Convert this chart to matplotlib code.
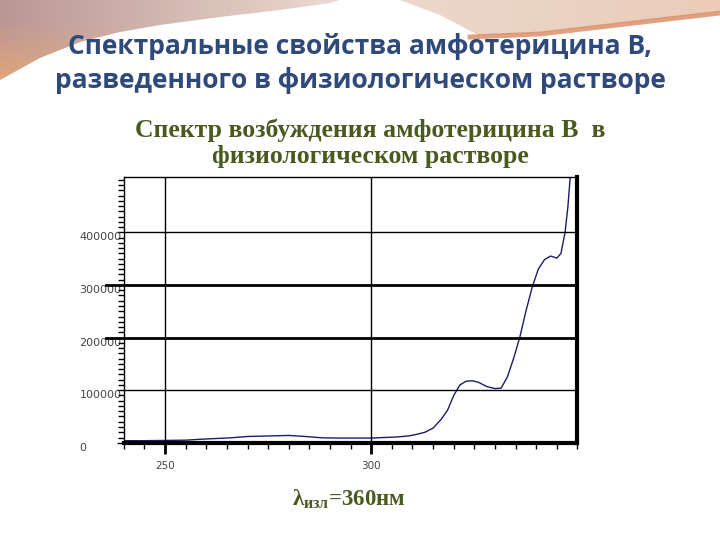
import numpy as np
import matplotlib.pyplot as plt
from matplotlib.ticker import MultipleLocator

# excitation spectrum
wavelength = [240, 245, 250, 255, 258, 262, 266, 270, 275, 280, 284, 288,
              292, 296, 300, 303, 306, 309, 311, 313, 315, 317, 318.5, 320,
              321.5, 323, 324.5, 326, 328, 330, 331.5, 333, 334.5, 336,
              337.5, 339, 340.5, 342, 343.5, 345, 346, 347, 347.7, 348.3, 349]
intensity = [4000, 4000, 4500, 5000, 6500, 8000, 9500, 12000, 13000, 14000,
             12000, 9500, 9000, 9000, 9000, 10000, 11000, 13000, 16000, 20000,
             28000, 45000, 62000, 90000, 110000, 117000, 118000, 115000,
             107000, 103000, 104000, 125000, 160000, 200000, 250000, 295000,
             330000, 348000, 355000, 351000, 360000, 400000, 450000, 510000,
             580000]

y_major = [0, 100000, 200000, 300000, 400000]
x_major = [250, 300]
x_labels = ['250', '300']

title = 'Спектральные свойства амфотерицина B,\nразведенного в физиологическом растворе'
subtitle = 'Спектр возбуждения амфотерицина B  в\nфизиологическом растворе'

plt.rcParams['mathtext.fontset'] = 'custom'
plt.rcParams['mathtext.rm'] = 'Liberation Serif:bold'
plt.rcParams['mathtext.it'] = 'Liberation Serif:bold'
plt.rcParams['mathtext.bf'] = 'Liberation Serif:bold'

fig = plt.figure(figsize=(7.2, 5.4), dpi=100, facecolor='white')

# slide background with the wave at the top
bg = fig.add_axes([0, 0, 1, 1], zorder=-10)
bg.set_xlim(0, 720)
bg.set_ylim(540, 0)
bg.axis('off')
gx = np.linspace(0, 1, 720)
gy = np.linspace(0, 1, 90)[:, None]
left = np.array([186, 150, 148]) / 255
mid = np.array([236, 218, 208]) / 255
right = np.array([234, 204, 184]) / 255
orange = np.array([232, 168, 118]) / 255
hx = np.where(gx[:, None] < 0.47,
              left + (mid - left) * (gx[:, None] / 0.47),
              mid + (right - mid) * ((gx[:, None] - 0.47) / 0.53))
img = np.repeat(hx[None, :, :], 90, axis=0)
w = np.clip(gy * 1.3 - 0.3, 0, 1)[:, :, None] * np.clip(1 - gx / 0.35, 0, 1)[None, :, None]
img = img * (1 - w) + orange * w
bg.imshow(img, extent=[0, 720, 90, 0], aspect='auto')
wave = [(0, 80), (40, 58), (80, 42), (120, 32), (160, 25), (220, 17), (280, 10),
        (330, 3), (340, 0), (400, 0), (440, 15), (480, 36), (540, 33), (600, 26),
        (660, 19), (720, 12), (720, 540), (0, 540)]
bg.add_patch(plt.Polygon(wave, closed=True, color='white', lw=0))
bg.plot([470, 540, 600, 660, 720], [37, 34, 27, 20, 13], color='#d98a62', lw=3.5, alpha=0.8)

fig.text(0.5, 0.882, title, ha='center', va='center', fontsize=19,
         fontweight='bold', family='Open Sans', color='#2f4a7a', linespacing=1.35)
fig.text(0.514, 0.735, subtitle, ha='center', va='center', fontsize=18.5,
         fontweight='bold', family='Liberation Serif', color='#4a5a1e', linespacing=1.2)
fig.text(0.485, 0.075, r'$\lambda_{изл}$=360нм', ha='center', va='center',
         fontsize=16.5, fontweight='bold', family='Liberation Serif', color='#4a5a1e')

ax = fig.add_axes([0.172, 0.18, 0.63, 0.492])
ax.plot(wavelength, intensity, color='#1c1c6a', lw=1)
ax.set_xlim(240, 350)
ax.set_ylim(0, 505000)

ax.set_xticks(x_major)
ax.set_xticklabels(x_labels)
ax.xaxis.set_minor_locator(MultipleLocator(5))
ax.set_yticks(y_major)
ax.set_yticklabels([str(v) for v in y_major])
ax.yaxis.set_minor_locator(MultipleLocator(10000))

ax.tick_params(axis='x', which='major', length=8, width=2, pad=5,
               labelsize=7.5, labelcolor='#444444')
ax.tick_params(axis='x', which='minor', length=4, width=1)
ax.tick_params(axis='y', which='major', length=5, width=1, pad=27,
               labelsize=8, labelcolor='#444444')
ax.tick_params(axis='y', which='minor', length=4.5, width=1)
for lab in ax.get_yticklabels():
    lab.set_horizontalalignment('left')
    lab.set_verticalalignment('top')

for v in x_major:
    ax.axvline(v, color='black', lw=1)
for v in [100000, 400000]:
    ax.axhline(v, color='black', lw=1)
for v in [200000, 300000]:
    ax.axhline(v, xmin=-0.04, xmax=1, color='black', lw=2, clip_on=False)

ax.spines['bottom'].set_linewidth(3)
ax.spines['right'].set_linewidth(3)
ax.spines['left'].set_linewidth(1)
ax.spines['top'].set_linewidth(1)

fig.savefig('out.png', dpi=100, facecolor='white')
